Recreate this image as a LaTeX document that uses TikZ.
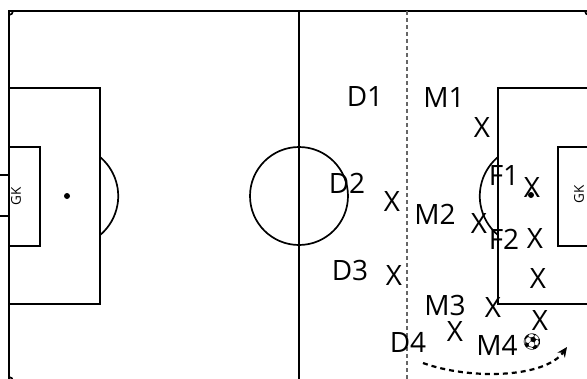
\documentclass[tikz,border=0pt]{standalone}
\usepackage{fontspec}
\setmainfont{Open Sans}
\newfontfamily\emojifont{Noto Emoji}
\usetikzlibrary{arrows.meta}
\begin{document}
\begin{tikzpicture}[x=1pt,y=-1pt,
  pitch/.style={draw=black,line width=1.7pt},
  lbl/.style={inner sep=0pt,font=\fontsize{28}{30}\selectfont},
  gk/.style={inner sep=0pt,font=\fontsize{13.5}{14}\selectfont,rotate=90},
  midline/.style={draw=black!60,line width=1.3pt,dash pattern=on 4pt off 3pt},
  run/.style={draw=black,line width=2.2pt,dash pattern=on 5pt off 4pt,-{Stealth[length=10pt,width=9pt]}}]
\useasboundingbox (0,0) rectangle (587,378);
% pitch outline
\draw[pitch] (9,385) -- (9,11) -- (595,11);
\draw[pitch] (299,11) -- (299,385);
\draw[pitch] (9,15) arc[start angle=90,end angle=0,radius=4];
\draw[pitch] (585,11) arc[start angle=180,end angle=90,radius=4];
\draw[pitch] (9,377) arc[start angle=-90,end angle=0,radius=4];
% centre circle
\draw[pitch] (299,196) circle[radius=49];
% left end
\draw[pitch] (9,88) rectangle (100,304);
\draw[pitch] (9,147) rectangle (40,246);
\draw[pitch] (-5,175) rectangle (9,216);
\fill (67,196) circle[radius=3];
\draw[pitch] (100,157) arc[start angle=-50,end angle=50,radius=51];
% right end
\draw[pitch] (595,88) -- (498,88) -- (498,304) -- (595,304);
\draw[pitch] (595,147) -- (558,147) -- (558,246) -- (595,246);
\fill (531,195) circle[radius=3];
\draw[pitch] (498,157) arc[start angle=230,end angle=130,radius=51];
% dashed line
\draw[midline] (407,11) -- (407,385);
% goalkeepers
\node[gk] (gkL) at (16,196) {GK};
\node[gk] (gkR) at (579,194) {GK};
% labels
\node[lbl] (d1) at (365,97) {D1};
\node[lbl] (m1) at (444,98) {M1};
\node[lbl] (x1) at (482,128) {X};
\node[lbl] (d2) at (347,183) {D2};
\node[lbl] (x2) at (392,202) {X};
\node[lbl] (m2) at (435,214) {M2};
\node[lbl] (x3) at (479,224) {X};
\node[lbl] (f1) at (504,176) {F1};
\node[lbl] (x4) at (532,188) {X};
\node[lbl] (f2) at (504,239) {F2};
\node[lbl] (x5) at (535,239) {X};
\node[lbl] (x6) at (538,279) {X};
\node[lbl] (d3) at (350,270) {D3};
\node[lbl] (x7) at (394,276) {X};
\node[lbl] (m3) at (445,305) {M3};
\node[lbl] (x8) at (493,308) {X};
\node[lbl] (x9) at (540,321) {X};
\node[lbl] (x10) at (455,332) {X};
\node[lbl] (d4) at (408,342) {D4};
\node[lbl] (m4) at (497,345) {M4};
\node[inner sep=0pt,font=\emojifont\fontsize{16}{16}\selectfont] (ball) at (532,342) {⚽};
% run
\coordinate (r0) at (423,363);
\coordinate (r1) at (567,347);
\draw[run] (r0) .. controls (470,380) and (545,378) .. (r1);
\end{tikzpicture}
\end{document}
